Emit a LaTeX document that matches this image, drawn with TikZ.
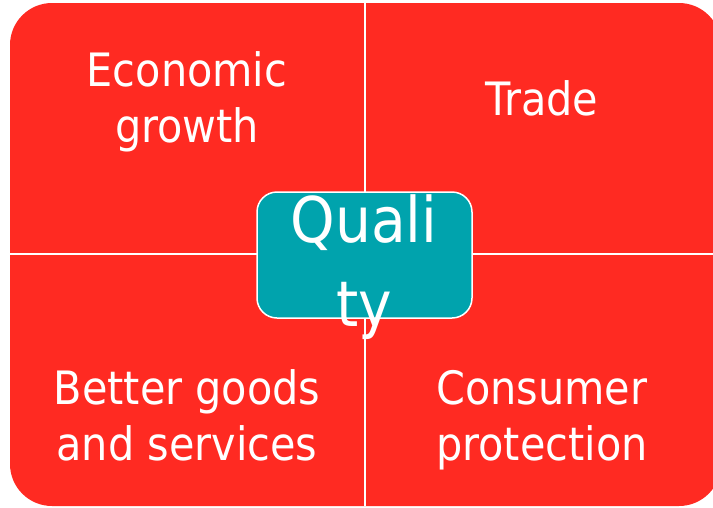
\documentclass[tikz,border=0pt]{standalone}
\usepackage{fontspec}
\setmainfont{DejaVu Sans Condensed}
\definecolor{qred}{RGB}{255,42,34}
\definecolor{qteal}{RGB}{0,163,173}
\tikzset{
  quadtext/.style={text=white, align=center, anchor=base, inner sep=0pt,
    font=\fontsize{46}{56}\selectfont},
  centerbox/.style={fill=qteal, draw=white, line width=1.5pt, rounded corners=20pt,
    minimum width=215pt, minimum height=126pt, inner sep=0pt},
  centertext/.style={text=white, align=center, anchor=base, inner sep=0pt,
    font=\fontsize{63}{84}\selectfont},
  divider/.style={white, line width=2pt}
}
\begin{document}
\begin{tikzpicture}[x=1pt,y=-1pt]
\useasboundingbox (0,0) rectangle (713,507);
\begin{scope}
  \clip (0,0) rectangle (713,507);
  \fill[qred, rounded corners=42pt] (10,3) rectangle (721,506);
  \coordinate (ttop) at (365,3);
  \coordinate (tbot) at (365,506);
  \coordinate (tleft) at (10,254);
  \coordinate (tright) at (721,254);
  \draw[divider] (ttop) -- (tbot);
  \draw[divider] (tleft) -- (tright);
\end{scope}
\node[quadtext] (econ) at (187,142) {Economic\\growth};
\node[quadtext] (trade) at (542,115) {Trade};
\node[quadtext] (better) at (187,460) {Better goods\\and services};
\node[quadtext] (consumer) at (542,460) {Consumer\\protection};
\node[centerbox] (qbox) at (364.5,255) {};
\node[centertext] (qtext) at (364,326) {Quali\\ty};
\end{tikzpicture}
\end{document}
